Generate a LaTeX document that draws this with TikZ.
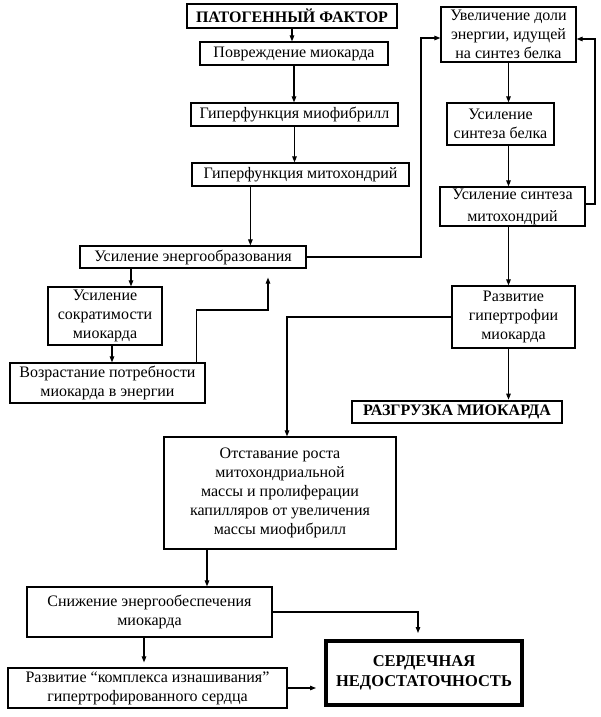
\documentclass[tikz,border=0pt]{standalone}
\usepackage{fontspec}
\setmainfont{Liberation Serif}
\usetikzlibrary{arrows.meta,calc}
\newcommand{\fsnorm}{\fontsize{16}{19}\selectfont}
\newcommand{\fsbig}{\fontsize{16.5}{20}\selectfont\bfseries}
\begin{document}
\begin{tikzpicture}[x=1pt,y=-1pt,
  box/.style={draw, line width=1.2pt, inner sep=0pt, align=center, font=\fsnorm},
  bbox/.style={draw, line width=2.6pt, inner sep=0pt, align=center, font=\fsnorm\bfseries},
  arr/.style={-{Triangle[length=6pt,width=4.5pt]}, line width=1.1pt},
  ln/.style={line width=1pt}]
\useasboundingbox[fill=white] (0,0) rectangle (600,717);

\node[bbox, minimum width=210pt, minimum height=24pt] (pf) at (292,16) {ПАТОГЕННЫЙ ФАКТОР};
\node[box, minimum width=188pt, minimum height=23pt] (pov) at (294,53.5) {Повреждение миокарда};
\node[box, minimum width=207pt, minimum height=23pt] (gmf) at (294.5,114.5) {Гиперфункция миофибрилл};
\node[box, minimum width=217pt, minimum height=23pt] (gmt) at (300.5,174.5) {Гиперфункция митохондрий};
\node[box, minimum width=135pt, minimum height=55pt] (uvd) at (508.5,34.5) {Увеличение доли\\энергии, идущей\\на синтез белка};
\node[box, minimum width=107pt, minimum height=42pt] (usb) at (500.5,124) {Усиление\\синтеза белка};
\node[box, minimum width=145pt, minimum height=39pt] (usm) at (512.5,206.5) {Усиление синтеза\\[3pt]митохондрий};
\node[box, minimum width=226pt, minimum height=22pt] (uen) at (193,257) {Усиление энергообразования};
\node[box, minimum width=114pt, minimum height=58pt] (uso) at (105,316) {Усиление\\сократимости\\миокарда};
\node[box, minimum width=195pt, minimum height=40pt] (voz) at (107.5,383) {Возрастание потребности\\миокарда в энергии};
\node[box, minimum width=123pt, minimum height=62pt] (rgm) at (513.5,317) {Развитие\\гипертрофии\\миокарда};
\node[bbox, minimum width=210pt, minimum height=22pt] (raz) at (457,412) {РАЗГРУЗКА МИОКАРДА};
\node[box, minimum width=232pt, minimum height=112pt] (ots) at (280,493) {Отставание роста\\митохондриальной\\массы и пролиферации\\капилляров от увеличения\\массы миофибрилл};
\node[box, minimum width=245pt, minimum height=50pt] (sni) at (149.5,612) {Снижение энергообеспечения\\миокарда};
\node[draw, line width=4pt, inner sep=0pt, align=center, font=\fsbig, minimum width=196pt, minimum height=64pt] (ser) at (424,673) {СЕРДЕЧНАЯ\\НЕДОСТАТОЧНОСТЬ};
\node[box, minimum width=279pt, minimum height=40pt] (kom) at (147.5,688) {Развитие “комплекса изнашивания”\\гипертрофированного сердца};

% main column
\draw[arr] (pf.south) -- (pf.south |- pov.north);
\draw[arr] (pov.south) -- (pov.south |- gmf.north);
\draw[arr] (gmf.south) -- (gmf.south |- gmt.north);
\path ([xshift=59pt]gmt.south west) coordinate (g1);
\draw[arr] (g1) -- (g1 |- uen.north);

% to right column
\coordinate (lA) at (421,38);
\draw[arr] (uen.east) -| (lA) -- (lA -| uvd.west);
\coordinate (rA) at (595,39);
\draw[arr] ([yshift=2.5pt]usm.east) -| (rA) -- (rA -| uvd.east);

% right column
\draw[arr] (uvd.south) -- (uvd.south |- usb.north);
\draw[arr] (uvd.south |- usb.south) -- (uvd.south |- usm.north);
\draw[arr] (uvd.south |- usm.south) -- (uvd.south |- rgm.north);
\draw[arr] (uvd.south |- rgm.south) -- (uvd.south |- raz.north);
\draw[arr] (rgm.west) -| ([xshift=7pt]ots.north);

% left loop
\path ([xshift=26pt]uso.north) coordinate (p1);
\draw[arr] (p1 |- uen.south) -- (p1);
\path ([xshift=7pt]uso.south) coordinate (p2);
\draw[arr] (p2) -- (p2 |- voz.north);
\coordinate (c2) at (268,310);
\draw[arr, shorten >=9pt] ([xshift=-9pt]voz.north east) |- (c2) -- (c2 |- uen.south);

% bottom
\path ([xshift=-73pt]ots.south) coordinate (o1);
\draw[arr] (o1) -- (o1 |- sni.north);
\draw[arr, shorten >=6pt] (sni.east) -| ([xshift=-6pt]ser.north);
\path ([xshift=-5.5pt]sni.south) coordinate (s1);
\draw[arr, shorten >=5pt] (s1) -- (s1 |- kom.north);
\draw[arr, shorten >=8pt] (kom.east) -- (kom.east -| ser.west);
\end{tikzpicture}
\end{document}
